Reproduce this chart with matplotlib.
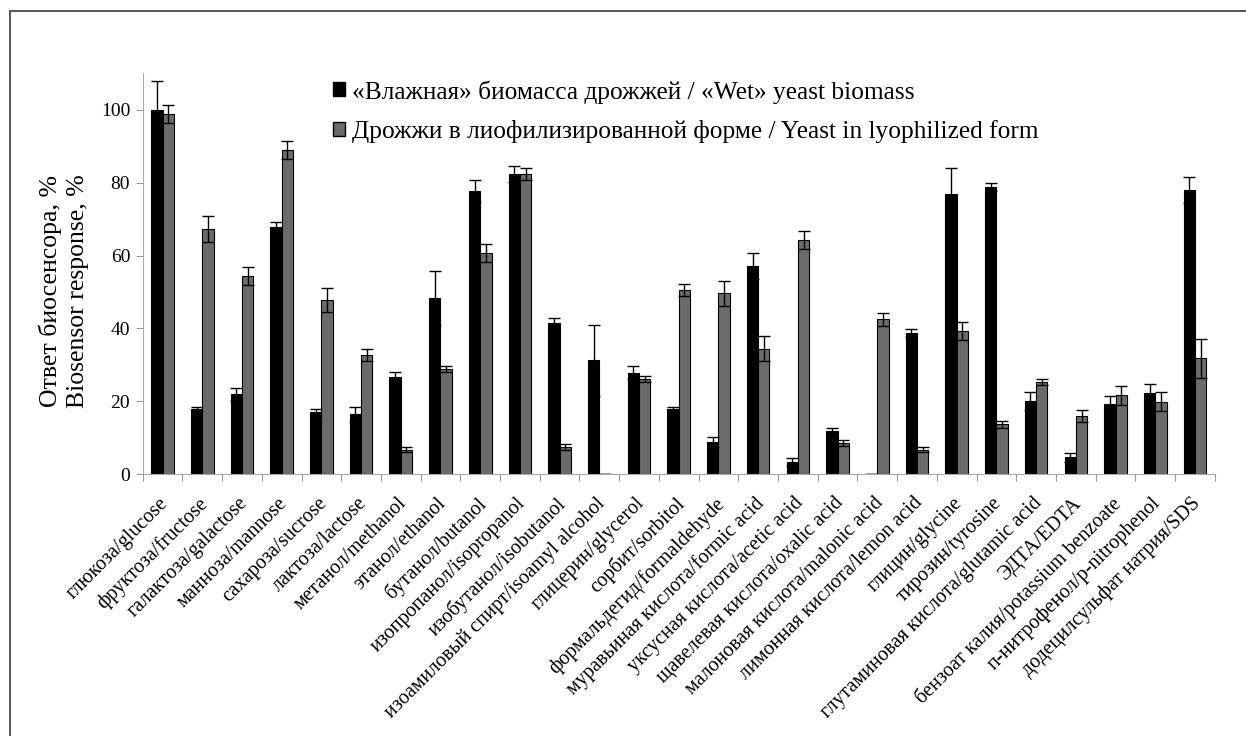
import matplotlib.pyplot as plt
import matplotlib.transforms as mtrans
import numpy as np
from matplotlib.lines import Line2D
from matplotlib.patches import Patch

plt.rcParams['font.family'] = ['Liberation Serif', 'DejaVu Serif']

labels = [
    "глюкоза/glucose", "фруктоза/fructose", "галактоза/galactose",
    "манноза/mannose", "сахароза/sucrose", "лактоза/lactose",
    "метанол/methanol", "этанол/ethanol", "бутанол/butanol",
    "изопропанол/isopropanol", "изобутанол/isobutanol",
    "изоамиловый спирт/isoamyl alcohol", "глицерин/glycerol",
    "сорбит/sorbitol", "формальдегид/formaldehyde",
    "муравьиная кислота/formic acid", "уксусная кислота/acetic acid",
    "щавелевая кислота/oxalic acid", "малоновая кислота/malonic acid",
    "лимонная кислота/lemon acid", "глицин/glycine", "тирозин/tyrosine",
    "глутаминовая кислота/glutamic acid", "ЭДТА/EDTA",
    "бензоат калия/potassium benzoate", "п-нитрофенол/p-nitrophenol",
    "додецилсульфат натрия/SDS",
]

wet = [100, 17.9, 21.9, 67.9, 17.0, 16.4, 26.8, 48.4, 77.7, 82.3, 41.4,
       31.3, 27.9, 17.9, 8.8, 57.1, 3.3, 11.9, 0, 38.8, 77.0, 78.8, 20.1,
       4.7, 19.2, 22.2, 77.9]
wet_err = [7.8, 0.6, 1.8, 1.4, 1.0, 2.0, 1.3, 7.4, 3.1, 2.2, 1.5,
           9.7, 1.7, 0.6, 1.3, 3.5, 1.1, 0.9, 0, 1.1, 6.9, 1.1, 2.5,
           1.2, 2.4, 2.5, 3.6]
lyo = [98.9, 67.3, 54.4, 89.0, 47.8, 32.8, 6.7, 28.8, 60.7, 82.3, 7.5,
       0, 26.1, 50.5, 49.6, 34.5, 64.2, 8.5, 42.5, 6.7, 39.4, 13.7, 25.3,
       16.0, 21.7, 19.9, 31.8]
lyo_err = [2.5, 3.5, 2.6, 2.5, 3.3, 1.7, 0.7, 0.8, 2.5, 1.7, 0.8,
           0, 0.9, 1.7, 3.4, 3.5, 2.5, 0.8, 1.8, 0.7, 2.5, 0.9, 0.8,
           1.6, 2.6, 2.6, 5.3]

wet_name = "«Влажная» биомасса дрожжей / «Wet» yeast biomass"
lyo_name = "Дрожжи в лиофилизированной форме / Yeast in lyophilized form"

fig = plt.figure(figsize=(12.46, 7.36), dpi=100)
ax = fig.add_axes([0.1145, 0.3556, 0.8605, 0.5448])

x = np.arange(len(labels))
w = 0.285
err_kw = dict(ecolor='black', elinewidth=1, capsize=4, capthick=1)
ax.bar(x - w / 2, wet, w, yerr=wet_err, color='black', edgecolor='black',
       linewidth=0.8, error_kw=err_kw)
ax.bar(x + w / 2, lyo, w, yerr=lyo_err, color='#6b6b6b', edgecolor='black',
       linewidth=0.8, error_kw=err_kw)

ax.set_xlim(-0.5, len(labels) - 0.5)
ax.set_ylim(0, 110)
ax.set_yticks([0, 20, 40, 60, 80, 100])
ax.tick_params(axis='y', labelsize=14, length=5, color='#999999', pad=4)

# category ticks sit on the boundaries between groups
ax.set_xticks(np.arange(len(labels) + 1) - 0.5, minor=False)
ax.set_xticklabels([])
ax.tick_params(axis='x', length=5, color='#999999')
ax.set_xticks(x, minor=True)
ax.set_xticklabels(labels, minor=True, rotation=45, ha='right',
                   rotation_mode='anchor', fontsize=14.5)
ax.tick_params(axis='x', which='minor', length=0, pad=14)
shift = mtrans.ScaledTranslation(-4 / 100, 0, fig.dpi_scale_trans)
for lbl in ax.get_xticklabels(minor=True):
    lbl.set_transform(lbl.get_transform() + shift)

for s in ['top', 'right']:
    ax.spines[s].set_visible(False)
for s in ['left', 'bottom']:
    ax.spines[s].set_color('#aaaaaa')
    ax.spines[s].set_linewidth(0.8)

ax.set_ylabel("Ответ биосенсора, %\nBiosensor response, %", fontsize=18.5,
              linespacing=1.3)
ax.yaxis.set_label_coords(-0.050, 0.457)

handles = [Patch(facecolor='black', edgecolor='black'),
           Patch(facecolor='#6b6b6b', edgecolor='black')]
fig.legend(handles, [wet_name, lyo_name], loc='upper left',
           bbox_to_anchor=(333 / 1246, 1 - 80 / 736), frameon=False,
           fontsize=18.3, handlelength=0.47, handleheight=0.47,
           handletextpad=0.28, labelspacing=0.66, borderpad=0,
           borderaxespad=0)

# frame around the figure (left and top edges)
fig.add_artist(Line2D([9.5 / 1246, 9.5 / 1246], [0, 1 - 10.5 / 736],
                      color='#555555', linewidth=1.4))
fig.add_artist(Line2D([9.5 / 1246, 1], [1 - 10.5 / 736, 1 - 10.5 / 736],
                      color='#555555', linewidth=1.4))

fig.savefig("out.png", dpi=100)
